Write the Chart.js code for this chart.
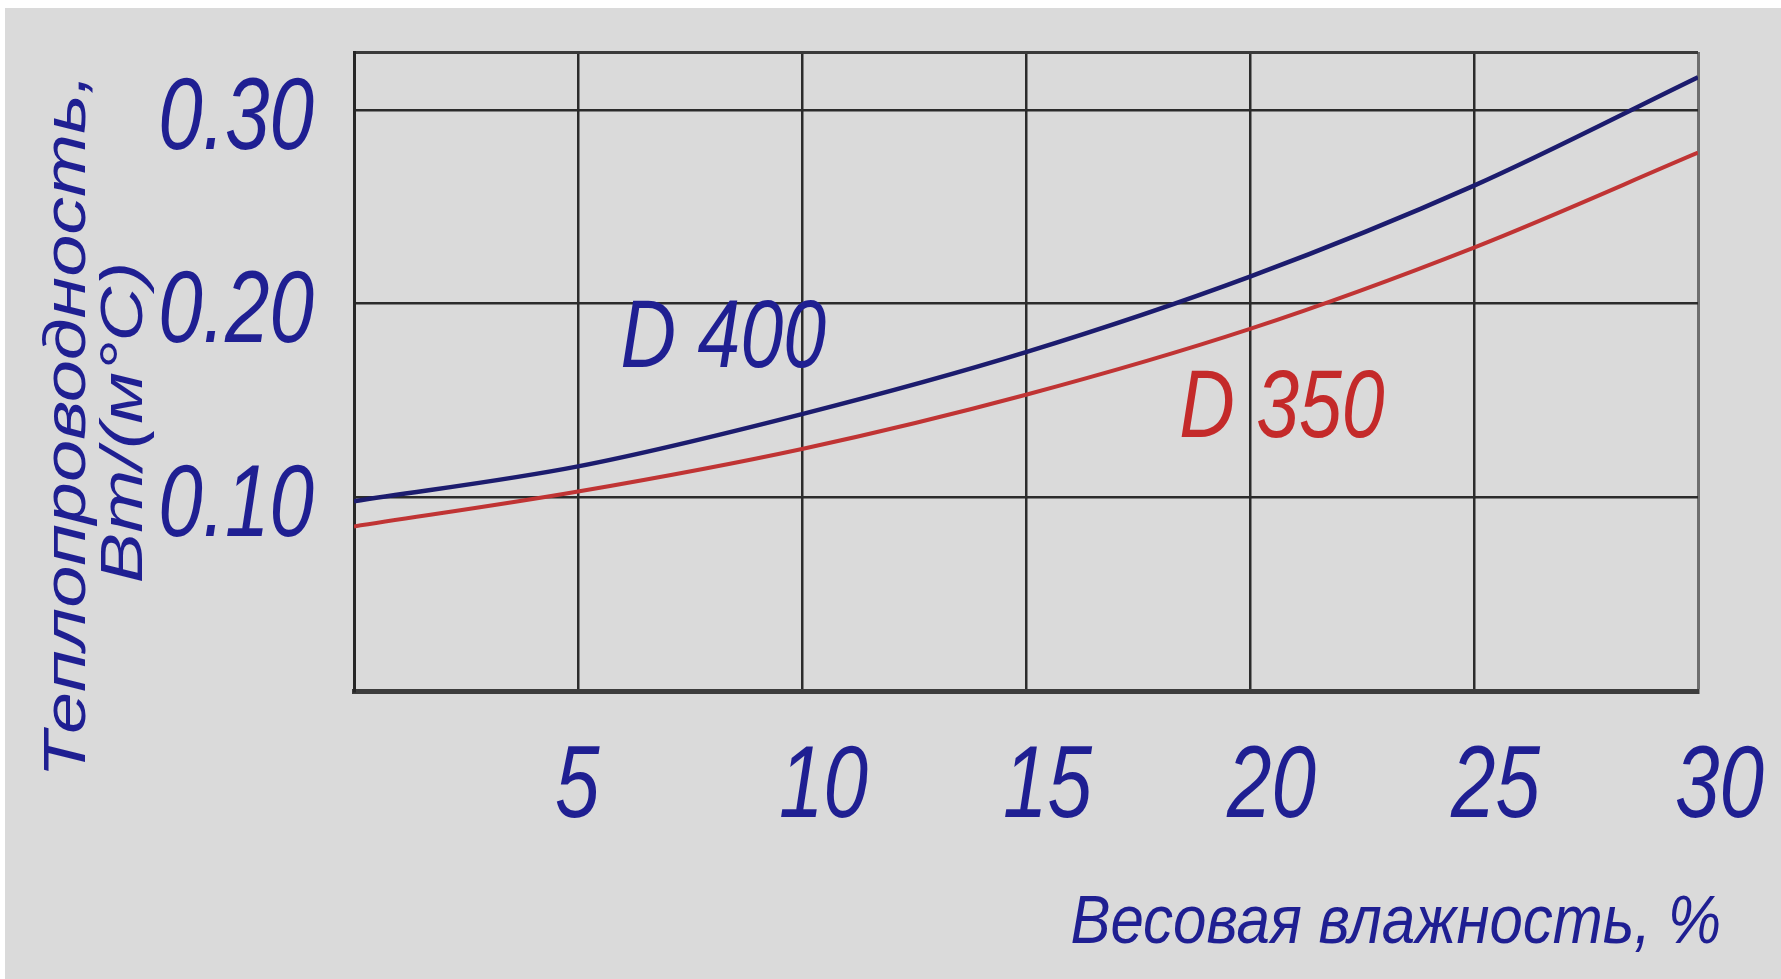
<!DOCTYPE html>
<html>
<head>
<meta charset="utf-8">
<script src="https://cdn.jsdelivr.net/npm/chart.js@4.4.1/dist/chart.umd.min.js"></script>
<style>
html,body{margin:0;padding:0;background:#fff;}
#wrap{position:absolute;left:5px;top:8px;width:1776px;height:971px;background:#dadada;}
</style>
</head>
<body>
<div id="wrap"><canvas id="myChart" width="1776" height="971"></canvas></div>
<script>
// moisture, % by weight
var moisture=[0,5,10,15,20,25,30];
// thermal conductivity, W/(m*C)
var d400=[0.098,0.116,0.143,0.175,0.214,0.261,0.317];
var d350=[0.085,0.103,0.125,0.153,0.187,0.229,0.278];
var xTicks=[5,10,15,20,25,30];
var yTicks=[0.10,0.20,0.30];
var seriesNames=["D 400","D 350"];
var xTitle="Весовая влажность, %";
var yTitle=["Теплопроводность,","Вт/(м°С)"];

var FONT='"Liberation Sans", Arial, sans-serif';
var BLUE='#1f1f92';
var RED='#c42a2a';

function pts(arr){
    var out=[];
    for(var i=0;i<moisture.length;i++){
        out.push({x:moisture[i],y:arr[i]});
    }
    return out;
}

// text in the picture is stretched, so draw it with a scale
function drawText(c,txt,x,y,size,k,align,color,rot){
    c.save();
    c.translate(x,y);
    if(rot){ c.rotate(rot); c.scale(k,1); }
    else c.scale(1,k);
    c.font='italic '+size+'px '+FONT;
    c.fillStyle=color;
    c.textAlign=align;
    c.textBaseline='middle';
    c.fillText(txt,0,0);
    c.restore();
}

var textPlugin={
    id:'texts',
    afterDraw:function(chart){
        var c=chart.ctx;
        var ca=chart.chartArea;
        var xs=chart.scales.x, ys=chart.scales.y;
        yTicks.forEach(function(v){
            drawText(c,v.toFixed(2),ca.left-40,ys.getPixelForValue(v)+10,80,1.28,'right',BLUE);
        });
        xTicks.forEach(function(v){
            drawText(c,String(v),xs.getPixelForValue(v)-23,ca.bottom+98,80,1.28,'left',BLUE);
        });
        drawText(c,xTitle,ca.right+23,ca.bottom+233,60,1.15,'right',BLUE);
        var mid=(ca.top+ca.bottom)/2;
        drawText(c,yTitle[0],ca.left-286,mid+54,60,1.26,'center',BLUE,-Math.PI/2);
        drawText(c,yTitle[1],ca.left-229,mid+51,60,1.26,'center',BLUE,-Math.PI/2);
        // curve labels
        drawText(c,seriesNames[0],xs.getPixelForValue(5.95),ys.getPixelForValue(0.181),77,1.24,'left',BLUE);
        drawText(c,seriesNames[1],xs.getPixelForValue(18.42),ys.getPixelForValue(0.145),77,1.24,'left',RED);
    }
};

const ctx=document.getElementById('myChart');
new Chart(ctx,{
    type:'line',
    data:{
        datasets:[{
            label:seriesNames[0],
            data:pts(d400),
            borderColor:'#1c1c6e',
            borderWidth:4.5,
            pointRadius:0,
            cubicInterpolationMode:'monotone'
        },{
            label:seriesNames[1],
            data:pts(d350),
            borderColor:'#c03434',
            borderWidth:4,
            pointRadius:0,
            cubicInterpolationMode:'monotone'
        }]
    },
    options:{
        responsive:false,
        animation:false,
        layout:{padding:{top:44,right:83,bottom:0,left:0}},
        plugins:{legend:{display:false},tooltip:{enabled:false}},
        scales:{
            x:{
                type:'linear',min:0,max:30,
                ticks:{display:false,stepSize:5},
                grid:{
                    drawTicks:false,
                    color:function(g){
                        if(g.tick.value==0) return 'rgba(0,0,0,0)';
                        if(g.tick.value==30) return '#6e6e6e';
                        return '#2b2b2b';
                    },
                    lineWidth:function(g){ return g.tick.value==30?3:2.5; }
                },
                border:{color:'#3c3c3c',width:5},
                afterFit:function(s){ s.height=288; }
            },
            y:{
                min:0,max:0.33,
                ticks:{display:false,stepSize:0.1},
                grid:{
                    drawTicks:false,
                    color:function(g){
                        if(g.tick.value==0) return 'rgba(0,0,0,0)';
                        if(g.tick.value>0.32) return '#3a3a3a';
                        return '#2b2b2b';
                    },
                    lineWidth:function(g){ return g.tick.value>0.32?3:2.5; }
                },
                border:{color:'#262626',width:3},
                afterFit:function(s){ s.width=349; }
            }
        }
    },
    plugins:[textPlugin]
});
</script>
</body>
</html>
